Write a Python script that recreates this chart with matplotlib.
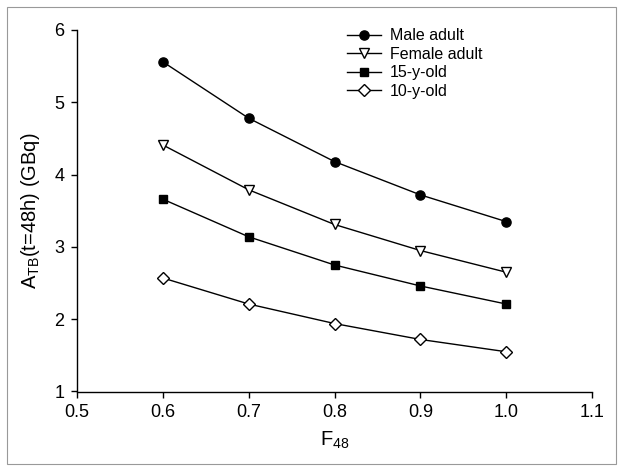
import matplotlib
matplotlib.use("Agg")
import matplotlib.pyplot as plt
from matplotlib.patches import Rectangle

plt.rcParams['font.family'] = ['Liberation Sans', 'DejaVu Sans']
plt.rcParams['mathtext.fontset'] = 'custom'
plt.rcParams['mathtext.rm'] = 'Liberation Sans'
plt.rcParams['mathtext.it'] = 'Liberation Sans'
plt.rcParams['mathtext.default'] = 'regular'

f48 = [0.6, 0.7, 0.8, 0.9, 1.0]
male_adult = [5.56, 4.78, 4.18, 3.72, 3.35]
female_adult = [4.41, 3.79, 3.31, 2.95, 2.65]
y15 = [3.66, 3.14, 2.75, 2.46, 2.21]
y10 = [2.57, 2.21, 1.94, 1.72, 1.55]

xticks = [0.5, 0.6, 0.7, 0.8, 0.9, 1.0, 1.1]
xticklabels = ['0.5', '0.6', '0.7', '0.8', '0.9', '1.0', '1.1']
yticks = [1, 2, 3, 4, 5, 6]

fig = plt.figure(figsize=(6.24, 4.72), dpi=100)
ax = fig.add_axes([77/624, 1 - 391.5/472, 515/624, 361.5/472])

# outer frame around the figure
fig.patches.append(Rectangle((7/624, 1 - 464/472), 609/624, 457/472,
                             transform=fig.transFigure, fill=False,
                             edgecolor='#999999', lw=0.8))

ms = 6.6
ax.plot(f48, male_adult, '-o', color='black', lw=1, ms=ms,
        mfc='black', mec='black', label='Male adult')
ax.plot(f48, female_adult, '-v', color='black', lw=1, ms=ms,
        mfc='white', mec='black', label='Female adult')
ax.plot(f48, y15, '-s', color='black', lw=1, ms=ms - 0.4,
        mfc='black', mec='black', label='15-y-old')
ax.plot(f48, y10, '-D', color='black', lw=1, ms=ms - 0.8,
        mfc='white', mec='black', label='10-y-old')

ax.set_xlim(0.5, 1.1)
ax.set_ylim(1, 6)
ax.set_xticks(xticks)
ax.set_xticklabels(xticklabels)
ax.set_yticks(yticks)
ax.tick_params(direction='out', length=4, width=1, labelsize=13, pad=5)
for s in ['top', 'right']:
    ax.spines[s].set_visible(False)
for s in ['left', 'bottom']:
    ax.spines[s].set_linewidth(1)

ax.set_xlabel(r'F$_{48}$', fontsize=14.5, labelpad=6)
ax.set_ylabel(r'A$_{TB}$(t=48h) (GBq)', fontsize=14.5)
ax.yaxis.set_label_coords(-0.068, 0.5)

ax.legend(loc='upper left', bbox_to_anchor=(0.497, 1.045), frameon=False,
          fontsize=11.5, handlelength=2.1, handletextpad=0.56,
          labelspacing=0.22)

fig.savefig('out.png', dpi=100)
